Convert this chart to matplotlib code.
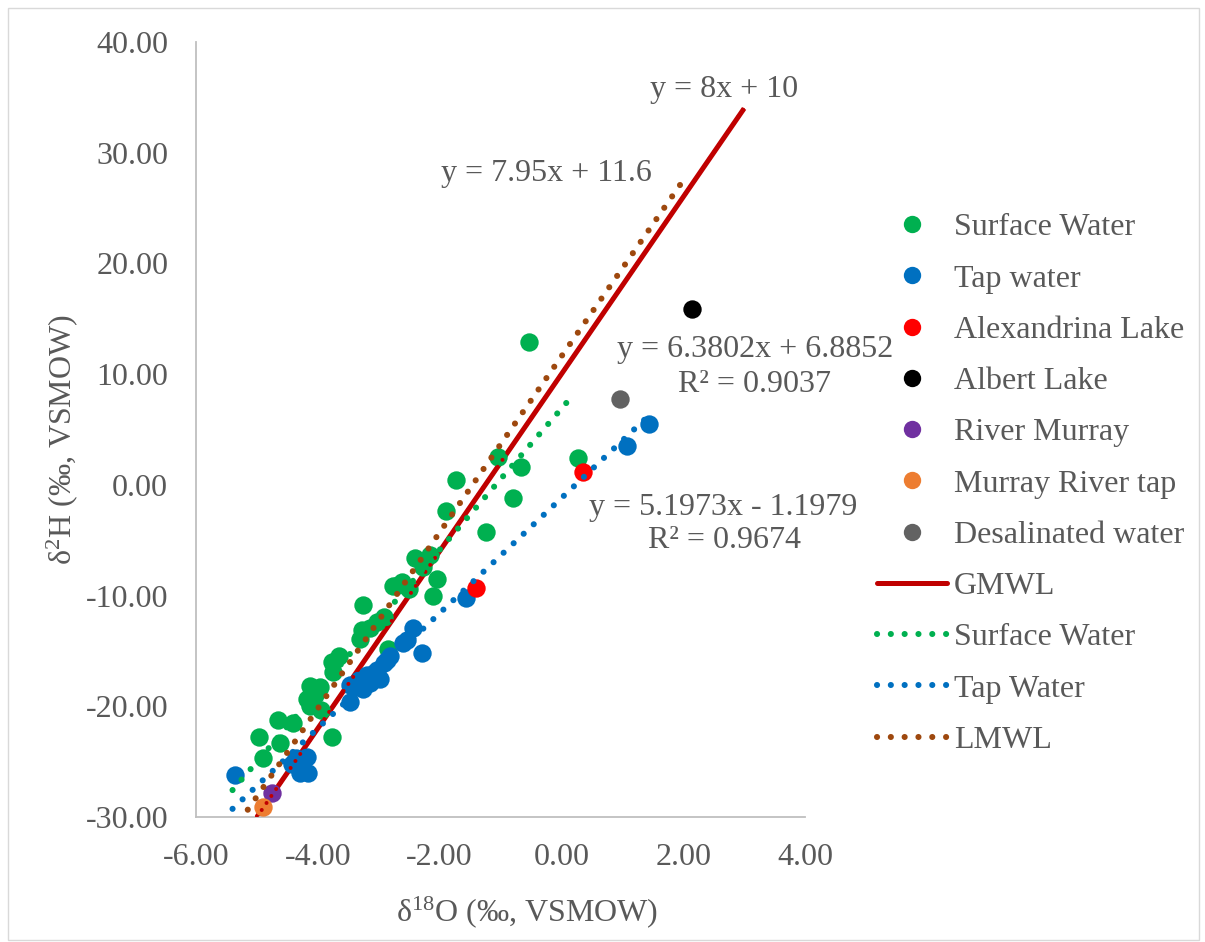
import matplotlib
matplotlib.use("Agg")
import matplotlib.pyplot as plt
import numpy as np
from matplotlib.lines import Line2D
from matplotlib.patches import Rectangle
from matplotlib.ticker import MultipleLocator, FuncFormatter

# ---- data: delta-18O (x) and delta-2H (y), permil VSMOW ----
surface_x = [-0.53, -1.73, -1.89, -0.80, -0.66, -1.04, -1.24, 0.28, -2.05, -2.11,
             -2.40, -2.16, -2.28, -2.68, -2.50, -2.76, -2.62, -3.25, -2.92, -3.03,
             -3.28, -3.31, -3.15, -2.84, -3.66, -3.77, -3.75, -4.13, -3.96, -4.18,
             -4.13, -3.94, -3.77, -4.65, -4.40, -4.62, -4.96, -4.90, -4.05]
surface_y = [12.9, 0.4, -2.4, -1.2, 1.6, 2.5, -4.3, 2.4, -8.5, -10.0,
             -6.6, -6.3, -7.4, -9.0, -9.4, -9.1, -8.8, -10.85, -11.9, -12.4,
             -13.1, -13.9, -12.9, -14.8, -15.5, -16.0, -16.9, -18.2, -18.3, -19.3,
             -20.0, -20.3, -22.75, -21.2, -21.5, -23.3, -22.75, -24.7, -19.0]

tap_x = [1.44, 1.07, -1.57, -2.43, -2.54, -2.60, -2.29, -2.81, -2.92, -3.03,
         -3.20, -3.33, -3.47, -3.14, -3.25, -2.98, -3.47, -5.36, -4.35, -4.18,
         -4.29, -4.16, -4.43, -3.08, -2.87, -3.38]
tap_y = [5.5, 3.55, -10.25, -12.95, -14.0, -14.3, -15.2, -15.5, -16.1, -16.7,
         -17.2, -17.6, -18.1, -17.9, -18.4, -17.5, -19.6, -26.2, -24.7, -24.55,
         -26.05, -26.05, -25.2, -17.0, -15.8, -18.3]

alexandrina_x = [-1.40, 0.35]
alexandrina_y = [-9.35, 1.2]
albert_x = [2.14]
albert_y = [15.9]
river_murray_x = [-4.76]
river_murray_y = [-27.8]
murray_tap_x = [-4.90]
murray_tap_y = [-29.1]
desal_x = [0.96]
desal_y = [7.76]

# water lines: (slope, intercept, x-extent)
gmwl = (8.0, 10.0, [-5.0, 3.0])
lmwl = (7.95, 11.6, [-5.15, 2.0])
surface_fit = (6.3802, 6.8852, [-5.4, 0.2])
tap_fit = (5.1973, -1.1979, [-5.4, 1.44])

x_ticks = [-6, -4, -2, 0, 2, 4]
y_ticks = [-30, -20, -10, 0, 10, 20, 30, 40]

# ---- styling ----
plt.rcParams["font.family"] = ["Liberation Serif", "DejaVu Serif"]
plt.rcParams["mathtext.default"] = "regular"
plt.rcParams["font.size"] = 23

TXT = "#595959"
GREEN = "#00B050"
BLUE = "#0070C0"
RED = "#FF0000"
PURPLE = "#7030A0"
ORANGE = "#ED7D31"
GREY = "#626262"
DARKRED = "#C00000"
BROWN = "#9E480E"

W, H = 1205, 942
fig = plt.figure(figsize=(W / 100, H / 100), dpi=100)


def fx(px):
    return px / W


def fy(py):
    return 1 - py / H


ax = fig.add_axes([fx(196), fy(817), fx(805) - fx(196), fy(42) - fy(817)])
ax.set_xlim(x_ticks[0], x_ticks[-1])
ax.set_ylim(y_ticks[0], y_ticks[-1])
ax.xaxis.set_major_locator(MultipleLocator(2))
ax.yaxis.set_major_locator(MultipleLocator(10))
fmt = FuncFormatter(lambda v, p: f"{v:.2f}")
ax.xaxis.set_major_formatter(fmt)
ax.yaxis.set_major_formatter(fmt)
ax.tick_params(length=0, labelcolor=TXT, labelsize=23)
ax.tick_params(axis="y", pad=20)
ax.tick_params(axis="x", pad=19)
for s in ("top", "right"):
    ax.spines[s].set_visible(False)
for s in ("left", "bottom"):
    ax.spines[s].set_color("#BFBFBF")
    ax.spines[s].set_linewidth(1.3)
ax.set_facecolor("none")

MS = 175
DOT = dict(linewidth=4.4, linestyle=(0, (0.01, 2.25)), dash_capstyle="round")


def line_xy(spec):
    slope, icpt, ext = spec
    xs = np.array(ext)
    return xs, slope * xs + icpt


# GMWL solid line sits beneath the markers
gx, gy = line_xy(gmwl)
ax.plot(gx, gy, color=DARKRED, linewidth=3.6, solid_capstyle="butt", zorder=2)

ax.scatter(surface_x, surface_y, s=MS, color=GREEN, linewidths=0, zorder=3)
ax.scatter(tap_x, tap_y, s=MS, color=BLUE, linewidths=0, zorder=3)
ax.scatter(alexandrina_x, alexandrina_y, s=MS, color=RED, linewidths=0, zorder=3)
ax.scatter(albert_x, albert_y, s=MS, color="black", linewidths=0, zorder=3)
ax.scatter(river_murray_x, river_murray_y, s=MS, color=PURPLE, linewidths=0, zorder=3)
ax.scatter(murray_tap_x, murray_tap_y, s=MS, color=ORANGE, linewidths=0, zorder=3)
ax.scatter(desal_x, desal_y, s=MS, color=GREY, linewidths=0, zorder=3)

# dotted fits drawn over the markers
ax.plot(gx, gy, color=DARKRED, linewidth=2.9, linestyle=(0, (0.01, 2.1)),
        dash_capstyle="round", zorder=4)
for spec, col in ((surface_fit, GREEN), (tap_fit, BLUE), (lmwl, BROWN)):
    lx, ly = line_xy(spec)
    ax.plot(lx, ly, color=col, zorder=4, **DOT)

# equation labels
def label(px, py, s):
    fig.text(fx(px), fy(py), s, ha="center", va="center", color=TXT, fontsize=23)


label(724, 90, "y = 8x + 10")
label(546, 173, "y = 7.95x + 11.6")
label(755, 350, "y = 6.3802x + 6.8852")
label(755, 385, "R² = 0.9037")
label(723, 507, "y = 5.1973x - 1.1979")
label(724, 541, "R² = 0.9674")

# axis titles
fig.text(fx(527), fy(912), r"δ$^{18}$O (‰, VSMOW)", ha="center", va="center",
         color=TXT, fontsize=23)
fig.text(fx(62), fy(440), r"δ$^{2}$H (‰, VSMOW)", ha="center", va="center",
         rotation=90, color=TXT, fontsize=23)

# legend
LMS = 12.5
handles = [
    Line2D([], [], linestyle="none", marker="o", markersize=LMS, markeredgewidth=0, color=GREEN),
    Line2D([], [], linestyle="none", marker="o", markersize=LMS, markeredgewidth=0, color=BLUE),
    Line2D([], [], linestyle="none", marker="o", markersize=LMS, markeredgewidth=0, color=RED),
    Line2D([], [], linestyle="none", marker="o", markersize=LMS, markeredgewidth=0, color="black"),
    Line2D([], [], linestyle="none", marker="o", markersize=LMS, markeredgewidth=0, color=PURPLE),
    Line2D([], [], linestyle="none", marker="o", markersize=LMS, markeredgewidth=0, color=ORANGE),
    Line2D([], [], linestyle="none", marker="o", markersize=LMS, markeredgewidth=0, color=GREY),
    Line2D([], [], color=DARKRED, linewidth=3.6, solid_capstyle="round"),
    Line2D([], [], color=GREEN, **DOT),
    Line2D([], [], color=BLUE, **DOT),
    Line2D([], [], color=BROWN, **DOT),
]
labels = ["Surface Water", "Tap water", "Alexandrina Lake", "Albert Lake",
          "River Murray", "Murray River tap", "Desalinated water", "GMWL",
          "Surface Water", "Tap Water", "LMWL"]
leg = fig.legend(handles, labels, loc="upper left",
                 bbox_to_anchor=(fx(877), fy(213)), frameon=False,
                 borderpad=0, borderaxespad=0, handlelength=2.2,
                 handletextpad=0.2, labelspacing=0.685, fontsize=23)
for t in leg.get_texts():
    t.set_color(TXT)

# thin frame round the figure
fig.patches.append(Rectangle((fx(8), fy(940)), fx(1199) - fx(8), fy(8) - fy(940),
                             transform=fig.transFigure, fill=False,
                             edgecolor="#D9D9D9", linewidth=1.0))

fig.savefig("out.png", dpi=100)
